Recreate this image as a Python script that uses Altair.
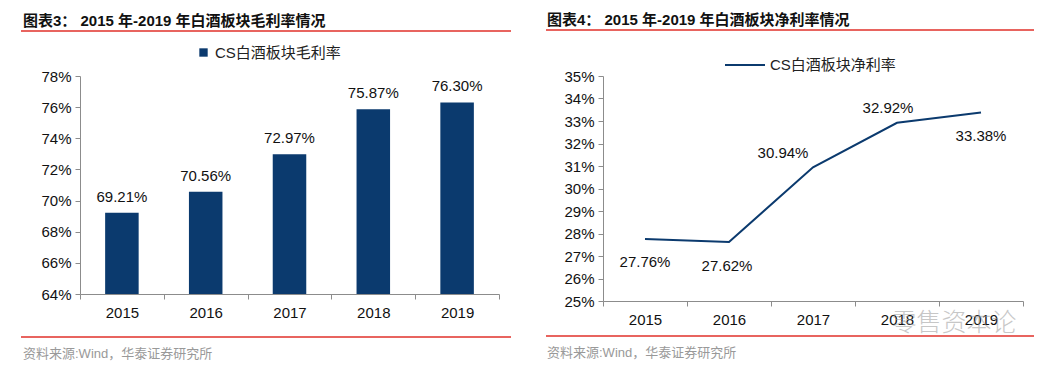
import altair as alt
import pandas as pd

# ---------------- data ----------------
years = ["2015", "2016", "2017", "2018", "2019"]
gross_margin = [69.21, 70.56, 72.97, 75.87, 76.30]
net_margin = [27.76, 27.62, 30.94, 32.92, 33.38]
gross_ticks = [64, 66, 68, 70, 72, 74, 76, 78]
net_ticks = [25, 26, 27, 28, 29, 30, 31, 32, 33, 34, 35]
gross_floor = 64
series_left = "CS白酒板块毛利率"
series_right = "CS白酒板块净利率"
title_left = "图表3：  2015 年-2019 年白酒板块毛利率情况"
title_right = "图表4：  2015 年-2019 年白酒板块净利率情况"
source_text = "资料来源:Wind，华泰证券研究所"
watermark = "零售资本论"

NAVY = "#0B3A6E"
RED = "#E0302A"
AXIS = "#8C8C8C"
FONT = "Liberation Sans, Noto Sans CJK SC"

df_left = pd.DataFrame({"year": years, "value": gross_margin, "series": series_left})
df_left["label"] = [f"{v:.2f}%" for v in gross_margin]
df_right = pd.DataFrame({"year": years, "value": net_margin, "series": series_right})
df_right["label"] = [f"{v:.2f}%" for v in net_margin]
one = pd.DataFrame({"k": [0]})

LW, LH = 419, 218
RW, RH = 420, 225


def x_enc():
    return alt.X(
        "year:O",
        scale=alt.Scale(paddingInner=0, paddingOuter=0),
        axis=alt.Axis(
            title=None, labelAngle=0, tickBand="extent", tickSize=5,
            domainColor=AXIS, tickColor=AXIS, labelColor="#111",
            labelFont=FONT, labelFontSize=15, labelPadding=6,
        ),
    )


def y_axis(vals):
    return alt.Axis(
        values=vals, labelExpr="datum.value + '%'", title=None, grid=False,
        tickSize=5, domainColor=AXIS, tickColor=AXIS, labelColor="#111",
        labelFont=FONT, labelFontSize=15, labelPadding=4, labelOverlap=False,
    )


def decorations(title, ox, top_y, bottom_y, x1, x2):
    t = alt.Chart(one).mark_text(
        text=title, font=FONT, fontSize=15, fontWeight="bold", align="left",
        baseline="middle", color="#111",
    ).encode(x=alt.value(ox), y=alt.value(top_y - 10))
    r1 = alt.Chart(one).mark_rule(color=RED, strokeWidth=1.5).encode(
        x=alt.value(x1), x2=alt.value(x2), y=alt.value(top_y))
    r2 = alt.Chart(one).mark_rule(color=RED, strokeWidth=1.5).encode(
        x=alt.value(x1), x2=alt.value(x2), y=alt.value(bottom_y))
    s = alt.Chart(one).mark_text(
        text=source_text, font=FONT, fontSize=13, align="left",
        baseline="middle", color="#999999",
    ).encode(x=alt.value(ox), y=alt.value(bottom_y + 17))
    return [t, r1, r2, s]


# ---------------- left: bar chart ----------------
base_l = alt.Chart(df_left).encode(x=x_enc())
yl = alt.Y("value:Q", scale=alt.Scale(domain=[64, 78], nice=False, zero=False),
           axis=y_axis(gross_ticks))
bars = base_l.mark_bar(width={"band": 0.4}).encode(
    y=yl,
    y2=alt.datum(gross_floor),
    color=alt.Color(
        "series:N",
        scale=alt.Scale(domain=[series_left], range=[NAVY]),
        legend=alt.Legend(
            title=None, orient="none", legendX=116, legendY=-31,
            symbolType="square", symbolSize=70, symbolStrokeWidth=0,
            labelFont=FONT, labelFontSize=15, labelColor="#222",
        ),
    ),
)
bar_labels = base_l.mark_text(
    font=FONT, fontSize=15, baseline="bottom", dy=-8, color="#111"
).encode(y=yl, text="label:N")

left = alt.layer(
    bars, bar_labels, *decorations(title_left, -57, -45, 261, -59, 431)
).properties(width=LW, height=LH)

# ---------------- right: line chart ----------------
base_r = alt.Chart(df_right).encode(x=x_enc())
yr = alt.Y("value:Q", scale=alt.Scale(domain=[25, 35], nice=False, zero=False),
           axis=y_axis(net_ticks))
line = base_r.mark_line(strokeWidth=2).encode(
    y=yr,
    color=alt.Color(
        "series:N",
        scale=alt.Scale(domain=[series_right], range=[NAVY]),
        legend=alt.Legend(
            title=None, orient="none", legendX=121, legendY=-32,
            symbolType="stroke", symbolSize=1600, symbolStrokeWidth=2,
            labelFont=FONT, labelFontSize=15, labelColor="#222",
        ),
    ),
)
offsets = {"2015": (0, 23), "2016": (-2, 24), "2017": (-30, -14),
           "2018": (-9, -15), "2019": (0, 24)}
line_labels = [
    base_r.transform_filter(alt.datum.year == yy).mark_text(
        font=FONT, fontSize=15, baseline="middle", dx=dx, dy=dy, color="#111"
    ).encode(y=yr, text="label:N")
    for yy, (dx, dy) in offsets.items()
]
wm = alt.Chart(one).mark_text(
    text=watermark, font="Noto Sans CJK SC", fontSize=25, fontWeight=300,
    color="#9a9a9a", opacity=0.55, baseline="middle", align="center",
).encode(x=alt.value(351), y=alt.value(247))

right = alt.layer(
    line, *line_labels, wm, *decorations(title_right, -56, -46, 260, -57, 431)
).properties(width=RW, height=RH)

chart = alt.HConcatChart(hconcat=[left, right], spacing=104, bounds="flush").resolve_scale(
    x="independent", y="independent", color="independent"
).resolve_axis(x="independent", y="independent").resolve_legend(color="independent").configure(
    padding={"left": 12, "top": 5, "right": 5, "bottom": 0},
    view=alt.ViewConfig(stroke=None),
    background="white",
)

chart.save("out.html", embed_options={"renderer": "svg", "actions": False})
